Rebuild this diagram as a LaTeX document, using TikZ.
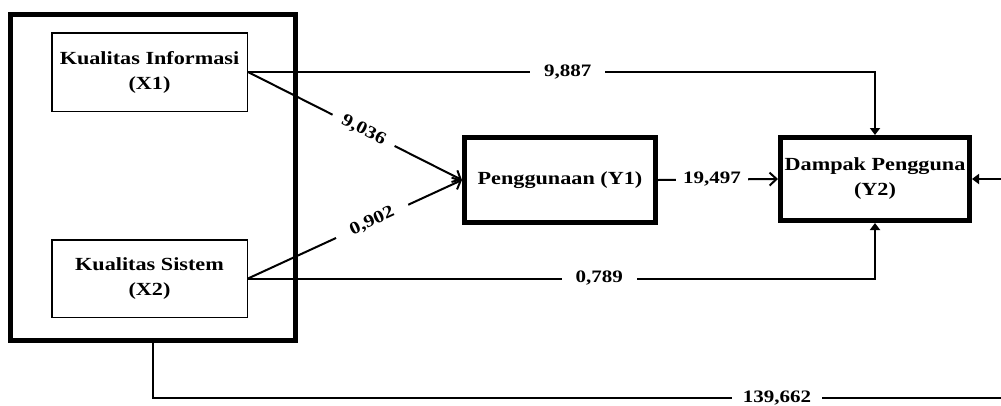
\documentclass[tikz,border=0pt]{standalone}
\usepackage{fontspec}
\setmainfont{Liberation Serif}[FakeStretch=1.2]
\usetikzlibrary{arrows.meta}
\begin{document}
\begin{tikzpicture}[x=1pt,y=-1pt,
  txt/.style={font=\fontsize{18.5}{25}\selectfont\bfseries},
  smallbox/.style={draw, line width=1.5pt, txt, align=center, inner sep=0pt, minimum width=195.5pt},
  bigbox/.style={draw, line width=5pt, txt, align=center, inner sep=0pt},
  conn/.style={line width=2pt},
  lbl/.style={fill=white, font=\fontsize{17.5}{20}\selectfont\bfseries, inner xsep=14pt, inner ysep=2pt},
  soltip/.style={-{Triangle[length=7pt,width=10pt]}},
  barb/.style={-{Straight Barb[length=7pt,width=13pt]}},
]
\useasboundingbox (0,0) rectangle (1001,405);
% nodes
\node[bigbox, minimum width=285pt, minimum height=326pt] (outer) at (153,177.5) {};
\node[smallbox, minimum height=78.5pt] (x1) at (149.5,72) {Kualitas Informasi\\(X1)};
\node[smallbox, minimum height=77.5pt] (x2) at (149.5,278.5) {Kualitas Sistem\\(X2)};
\node[bigbox, minimum width=191pt, minimum height=85pt] (y1) at (560,180) {Penggunaan (Y1)};
\node[bigbox, minimum width=189pt, minimum height=83pt] (y2) at (875,179) {Dampak Pengguna\\(Y2)};
\coordinate (br) at (1010,398);
\coordinate (tr) at (1010,179);
% connectors
\draw[conn, soltip] (x1.east) -| node[lbl, pos=0.255] {9,887} (y2.north);
\draw[conn, soltip] (x2.east) -| node[lbl, pos=0.28] {0,789} (y2.south);
\draw[conn, barb] (x1.east) -- node[lbl, sloped, pos=0.54, inner xsep=11pt] {9,036} (y1.west);
\draw[conn, barb] (x2.east) -- node[lbl, sloped, pos=0.58, inner xsep=16pt] {0,902} (y1.west);
\draw[conn, barb] (y1.east) -- node[lbl, pos=0.45, inner xsep=7pt] {19,497} (y2.west);
\draw[conn, soltip] (outer.south) |- node[lbl, pos=0.864, inner xsep=11pt] {139,662} (br) -- (tr) -- (y2.east);
\end{tikzpicture}
\end{document}
